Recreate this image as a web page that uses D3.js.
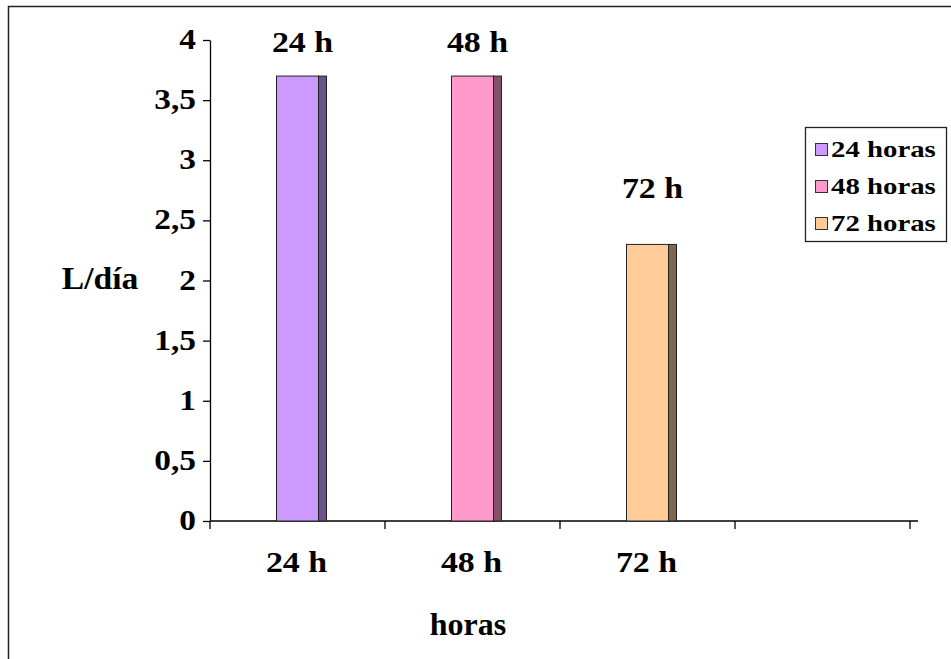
<!DOCTYPE html>
<html>
<head>
<meta charset="utf-8">
<script src="https://cdn.jsdelivr.net/npm/d3@7"></script>
<style>
  html, body { margin: 0; padding: 0; background: #fff; }
  svg { display: block; }
  text { font-family: "Liberation Serif", "DejaVu Serif", serif; font-weight: bold; fill: #000; }
</style>
</head>
<body>
<svg id="chart" width="951" height="659"></svg>
<script>
// Data
const categories = ["24 h", "48 h", "72 h", ""];
const seriesNames = ["24 horas", "48 horas", "72 horas"];
const values = [3.7, 3.7, 2.3];
const barLabels = ["24 h", "48 h", "72 h"];
const yTicks = [0, 0.5, 1, 1.5, 2, 2.5, 3, 3.5, 4];
const frontColors = ["#CC99FF", "#FF99CC", "#FFCC99"];
const sideColors = ["#6A5589", "#84506A", "#7F6650"];

const svg = d3.select("#chart");
const FONT = '"Liberation Serif", "DejaVu Serif", serif';

function stext(parent, x, y, str, size, sx, anchor) {
  return parent.append("g").attr("transform", `translate(${x},${y}) scale(${sx},1)`)
    .append("text").attr("x", 0).attr("y", 0).attr("text-anchor", anchor || "middle")
    .style("font-family", FONT).style("font-weight", "bold").style("font-size", size + "px")
    .text(str);
}

// Outer frame
svg.append("rect").attr("x", 8.5).attr("y", 6.5).attr("width", 960).attr("height", 670)
  .attr("fill", "#fff").attr("stroke", "#222").attr("stroke-width", 1.5);

const plot = { left: 210, right: 910, top: 40, bottom: 521 };
const x = d3.scaleBand().domain(categories).range([plot.left, plot.right]).padding(0);
const y = d3.scaleLinear().domain([0, 4]).range([plot.bottom, plot.top]);

const fmt = d => String(d).replace(".", ",");

// Y axis
const yAxis = d3.axisLeft(y).tickValues(yTicks).tickSize(7).tickSizeOuter(0).tickFormat(() => "");
const gy = svg.append("g").attr("transform", `translate(${plot.left},0)`).call(yAxis);
gy.select(".domain").attr("stroke", "#000").attr("stroke-width", 1.3);
gy.selectAll(".tick line").attr("stroke", "#000").attr("stroke-width", 1.3);
yTicks.forEach(t => {
  stext(svg, 196, y(t) + 9, fmt(t), 29, 1.15, "end");
});

// X axis
const gx = svg.append("g");
gx.append("line").attr("x1", plot.left).attr("x2", plot.right + 8)
  .attr("y1", plot.bottom).attr("y2", plot.bottom).attr("stroke", "#000").attr("stroke-width", 1.5);
const boundaries = categories.map(c => x(c)).concat([x(categories[categories.length - 1]) + x.bandwidth()]);
gx.selectAll("line.tk").data(boundaries).enter().append("line").attr("class", "tk")
  .attr("x1", d => d).attr("x2", d => d).attr("y1", plot.bottom).attr("y2", plot.bottom + 8)
  .attr("stroke", "#000").attr("stroke-width", 1.3);
categories.forEach(c => {
  stext(gx, x(c) + x.bandwidth() / 2 - 1, 572, c, 29, 1.17, "middle");
});

// Bars
const barW = x.bandwidth() * 0.24;
const depth = 8;
const bars = svg.append("g");
values.forEach((v, i) => {
  const cx = x(categories[i]) + x.bandwidth() / 2;
  const x0 = cx - barW / 2;
  const yt = y(v);
  bars.append("rect").attr("x", x0 + barW).attr("y", yt).attr("width", depth).attr("height", y(0) - yt)
    .attr("fill", sideColors[i]).attr("stroke", "#222").attr("stroke-width", 1);
  bars.append("rect").attr("x", x0).attr("y", yt).attr("width", barW).attr("height", y(0) - yt)
    .attr("fill", frontColors[i]).attr("stroke", "#222").attr("stroke-width", 1);
  const ly = Math.max(yt - 46, y(4) + 12);
  stext(bars, cx + 5, ly, barLabels[i], 29, 1.17, "middle");
});

// Axis titles
stext(svg, 100, 289, "L/día", 32, 1.05, "middle");
stext(svg, 468, 635, "horas", 32, 1.0, "middle");

// Legend
const lg = svg.append("g");
lg.append("rect").attr("x", 805.5).attr("y", 127.5).attr("width", 141).attr("height", 114)
  .attr("fill", "#fff").attr("stroke", "#222").attr("stroke-width", 1.3);
seriesNames.forEach((s, i) => {
  const yy = 150 + i * 37;
  lg.append("rect").attr("x", 815.5).attr("y", yy - 6.5).attr("width", 12).attr("height", 12)
    .attr("fill", frontColors[i]).attr("stroke", "#333").attr("stroke-width", 1);
  stext(lg, 831, yy + 7, s, 24, 1.2, "start");
});
</script>
</body>
</html>
